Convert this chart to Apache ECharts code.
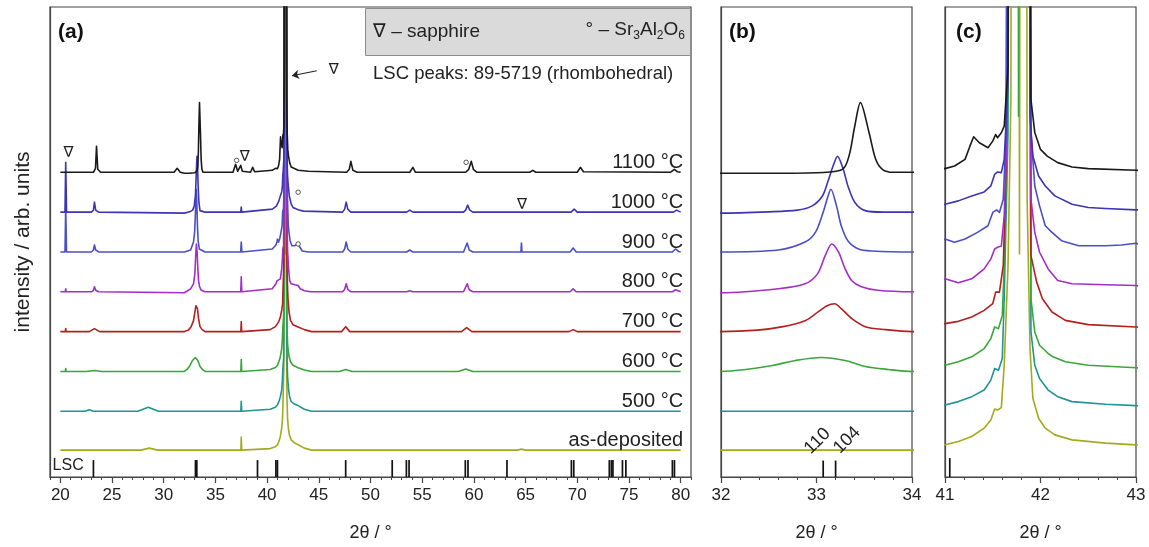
<!DOCTYPE html>
<html><head><meta charset="utf-8">
<script src="https://cdn.jsdelivr.net/npm/echarts@6/dist/echarts.min.js"></script>
<style>html,body{margin:0;padding:0;background:#fff}#c{width:1149px;height:547px}</style>
</head><body><div id="c"></div>
<script>
// ---------- data (2θ in degrees, intensity in arb. units above each curve's baseline) ----------
const curveNames = ['as-deposited','500 °C','600 °C','700 °C','800 °C','900 °C','1000 °C','1100 °C'];
const curveOffsets = [27, 66, 106, 146, 186, 226, 266, 306];
const curveColors = ['#a3aa1e','#1f9494','#3aa63a','#b0211f','#a22ec6','#4b4fc6','#3d34b2','#1a1a1a'];

const asDeposited = [[20,0],[20.48,0],[20.52,2],[20.56,0],[27.8,0],[28.6,2],[29.4,0],[32,0],[34,0],
 [37.46,0],[37.5,13],[37.54,0],[40.3,1.5],[40.8,3.5],
 [41.0,5.3],[41.14,8.7],[41.28,13.7],[41.41,22],[41.48,30.3],[41.52,41.3],[41.55,40.3],[41.59,42.7],[41.62,85.3],[41.66,185.3],[41.69,352],[41.70,1000],[41.77,1000],[41.78,197],[41.79,1000],[41.85,1000],[41.86,252],[41.89,102],[41.92,52],[41.98,32],[42.05,22],[42.15,15.3],[42.33,10.3],[42.68,7],[43.0,5.3],[43.6,2],[44.3,0],
 [64.2,0],[64.6,1],[65.0,0],[80,0]];
const t500 = [[20,0],[20.48,0],[20.52,2],[20.56,0],[22.4,0],[22.8,1.5],[23.2,0],[27.5,0],[28.5,4],[29.5,0],[32,0],[34,0],
 [37.46,0],[37.5,10],[37.54,0],[40.3,2],[40.8,4],
 [41.0,6.3],[41.14,9.7],[41.28,14.7],[41.41,21.3],[41.48,31.3],[41.52,43],[41.56,41.3],[41.60,53],[41.62,113],[41.66,279.7],[41.68,1000],[41.87,1000],[41.90,79.7],[41.94,46.3],[41.99,33],[42.08,21.3],[42.18,14.7],[42.33,9.7],[42.68,7],[43.0,5.7],[43.6,2],[44.3,0],[80,0]];
const t600 = [[20,0],[20.48,0],[20.52,3],[20.56,0],[22.5,0],[23.3,1],[24.0,0],
 [32.0,0],[32.26,2],[32.54,6],[32.78,11],[33.05,14],[33.30,11],[33.51,5],[33.75,2],[34.0,0],
 [37.46,0],[37.5,12],[37.54,0],[40.3,2],[40.8,4],
 [41.0,6.3],[41.14,9.7],[41.28,14.7],[41.41,23],[41.48,33],[41.52,44.7],[41.56,43],[41.60,56.3],[41.62,106.3],[41.65,239.7],[41.67,1000],[41.76,1000],[41.77,256.3],[41.78,1000],[41.87,1000],[41.90,73],[41.94,39.7],[41.99,26.3],[42.08,18],[42.13,14.7],[42.26,9.7],[42.50,6.3],[43.0,3.7],[43.6,1.5],[44.3,0],
 [47.0,0],[47.6,2],[48.2,0],[58.5,0],[59.2,2.5],[59.9,0],[80,0]];
const t700 = [[20,0],[20.48,0],[20.52,3],[20.56,0],[22.8,0],[23.3,3],[23.8,0],
 [32.0,0],[32.38,1.5],[32.65,5],[32.88,11],[33.02,20],[33.11,26],[33.19,28],[33.26,23],[33.37,13],[33.51,5],[33.72,2],[34.0,0],
 [37.46,0],[37.5,10],[37.54,0],[40.3,2],[40.8,5],
 [41.0,8],[41.14,10.3],[41.28,14.7],[41.41,21.3],[41.50,28],[41.53,39.7],[41.57,39.7],[41.61,66.3],[41.64,166.3],[41.67,1000],[41.87,1000],[41.90,76.3],[41.96,49.7],[42.02,33],[42.12,19.7],[42.26,11.3],[42.50,7],[43.0,4.7],[43.6,2],[44.3,0],
 [47.2,0],[47.6,5],[48.0,0],[58.8,0],[59.3,4],[59.8,0],[64.55,0],[64.6,2],[64.65,0],[69.2,0],[69.6,2],[70.0,0],[80,0]];
const t800 = [[20,0],[20.48,0],[20.52,3],[20.56,0],[23.0,0],[23.2,1.5],[23.3,5],[23.42,1.5],[23.7,0],
 [32.0,-1],[32.6,3],[32.88,8],[33.01,18],[33.09,36],[33.16,48],[33.23,40],[33.30,23],[33.37,11],[33.47,5],[33.64,1.5],[34.0,0],
 [37.45,0],[37.5,15],[37.55,0],[40.5,3],[40.85,8],[40.95,11],
 [41.0,13],[41.14,9],[41.28,13],[41.41,23],[41.48,33],[41.52,43],[41.55,44.7],[41.59,46],[41.62,76.3],[41.65,159.7],[41.67,1000],[41.88,1000],[41.90,93],[41.94,59.7],[41.99,39.7],[42.08,23],[42.18,11.3],[42.33,8],[42.68,7],[43.0,6.3],[43.2,3],[43.6,1],[44.2,0],
 [47.3,0],[47.5,2.5],[47.65,8],[47.8,2.5],[48.1,0],[53.5,0],[53.8,1],[54.1,0],[59.0,0],[59.15,2],[59.35,8],[59.55,2],[59.9,0],[69.3,0],[69.6,3],[69.9,0],[79.2,0],[79.5,2],[80,0]];
const t900 = [[20,0],[20.45,0],[20.52,45],[20.6,0],[23.0,0],[23.2,2],[23.3,7],[23.42,2],[23.7,0],
 [32.0,0],[32.6,2],[32.88,10],[32.99,20],[33.07,40],[33.12,56],[33.15,63],[33.21,46],[33.26,26],[33.33,11],[33.44,3],[33.58,1],[34.0,0],
 [37.44,0],[37.5,10],[37.56,0],[40.5,3],[40.85,7],[40.95,10],
 [41.0,13],[41.10,9.7],[41.21,13],[41.34,19.7],[41.45,26.3],[41.50,39.7],[41.54,42.3],[41.57,39.7],[41.61,53],[41.64,119.7],[41.67,1000],[41.87,1000],[41.90,119.7],[41.94,66.3],[41.99,46.3],[42.05,26.3],[42.12,19.7],[42.22,11.3],[42.40,6.3],[42.68,6.3],[42.85,7],[43.0,8.7],[43.1,6],[43.4,1],[44,0],
 [47.3,0],[47.5,3],[47.65,10],[47.8,3],[48.1,0],[53.5,0],[53.8,2],[54.1,0],[59.0,0],[59.15,2],[59.35,9],[59.55,2],[59.9,0],[64.55,0],[64.6,9],[64.65,0],[69.3,0],[69.6,4],[69.9,0],[79.2,0],[79.5,3],[79.8,0.5],[80,0]];
const t1000 = [[20,0],[20.45,0],[20.52,50],[20.6,0],[23.0,0],[23.2,2],[23.3,10],[23.42,2],[23.7,0],
 [32.0,-1],[32.5,0.3],[32.8,2],[32.95,6],[33.06,16],[33.12,31],[33.18,48],[33.22,56],[33.28,43],[33.33,26],[33.40,10],[33.51,1.5],[33.7,0],[34.0,0],
 [37.45,0],[37.5,5],[37.55,0],[40.5,3],[40.9,6],
 [41.0,8],[41.14,11.3],[41.28,16.3],[41.41,20.3],[41.48,26.3],[41.52,38],[41.55,40.3],[41.59,39.7],[41.62,53],[41.66,129.7],[41.68,1000],[41.87,1000],[41.89,96.3],[41.92,56.3],[41.98,36.3],[42.05,26.3],[42.15,16.3],[42.33,8],[42.50,4.7],[42.68,3.7],[43.0,2.3],[43.5,1],
 [47.3,0],[47.5,3],[47.65,10],[47.8,3],[48.1,0],[53.5,0],[53.8,2],[54.1,0],[59.0,0],[59.2,2],[59.4,7],[59.6,2],[59.9,0],[69.4,0],[69.7,3],[70.0,0],[79.3,0],[79.6,2],[80,0]];
const t1100 = [[20,0],[23.2,0],[23.4,4],[23.5,26],[23.62,3],[23.9,0],[31.0,0],[31.3,4],[31.6,0],
 [32.0,-1],[32.5,-1],[33.0,-0.5],[33.23,1.5],[33.30,6],[33.35,20],[33.40,46],[33.46,70],[33.55,40],[33.62,13],[33.69,3],[33.8,0],[34.0,0],
 [36.7,0],[36.95,8],[37.15,1],[37.3,1],[37.45,7],[37.6,1],[38.4,0],[38.6,5],[38.8,0.5],[40.5,2],[40.8,4],
 [41.0,3.7],[41.10,6.3],[41.21,13],[41.26,26],[41.30,35.7],[41.36,29.7],[41.45,24.7],[41.50,31.3],[41.53,38],[41.55,34.7],[41.59,39.7],[41.62,46.3],[41.66,106],[41.68,1000],[41.87,1000],[41.90,73],[41.94,40],[42.0,23],[42.07,16.3],[42.18,9.7],[42.33,5.3],[42.50,3.7],[43.0,2],[44,1],
 [47.7,0],[47.95,3],[48.1,11],[48.3,2],[48.7,0],[53.8,0],[54.1,5],[54.35,0],[59.2,0],[59.5,3],[59.75,11],[59.95,3],[60.3,0],[65.4,0],[65.7,2],[66.0,0],[70.0,0],[70.3,5],[70.6,0.5],[79.0,0],[79.4,3],[79.7,0.5],[80,0]];
const curves = [asDeposited, t500, t600, t700, t800, t900, t1000, t1100];

// LSC reference peak positions (2θ)
const lscPeaks = [23.2, 33.07, 33.2, 39.07, 40.85, 41.0, 47.6, 52.1, 53.47, 53.73, 59.17, 59.43, 63.2, 69.43, 69.66, 73.1, 73.3, 73.45, 74.37, 74.7, 79.2, 79.4];
const lscPeaksB = [33.07, 33.2];
const lscPeaksC = [41.05];
const lscLabelsB = ['110', '104'];

// tick labels
const ticksA = [20,25,30,35,40,45,50,55,60,65,70,75,80];
const ticksB = [32,33,34];
const ticksC = [41,42,43];

// annotations (data coordinates of panel a)
const sapphireMarks = [[20.8,325],[37.85,321],[64.66,273],[46.45,409]];
const sraoMarks = [[37.05,318],[43.0,286],[43.0,234],[59.25,316]];

// ---------- chart ----------
const FONT = 'Liberation Sans, Arial, Helvetica, sans-serif';
const TXT = '#222';
const AX = '#444';
const chart = echarts.init(document.getElementById('c'));

const grids = [
  {left:50, top:7, width:641, height:472},
  {left:721, top:7, width:191, height:472},
  {left:945, top:7, width:191, height:472}
].map(g => Object.assign(g, {show:true, borderColor:AX, borderWidth:1.2, backgroundColor:'transparent'}));

const axLine = {show:true, lineStyle:{color:AX, width:1.2}};
const axName = {name:'2θ / °', nameLocation:'middle', nameGap:47, nameTextStyle:{fontSize:18, color:TXT, fontFamily:FONT}};
const axLabel = {fontSize:17, color:TXT, fontFamily:FONT, margin:10};

const xAxis = [
  Object.assign({gridIndex:0, type:'value', position:'bottom', min:19, max:81, minInterval:5, maxInterval:5, splitNumber:12,
    axisLine:axLine, axisTick:{show:true, length:6, lineStyle:{color:AX, width:1.2}},
    axisLabel:Object.assign({showMinLabel:false, showMaxLabel:false, formatter:v => ticksA.includes(v) ? String(v) : ''}, axLabel),
    splitLine:{show:false}}, axName),
  {gridIndex:0, type:'value', position:'bottom', offset:0, min:19, max:81, interval:1, axisLine:{show:false},
    axisTick:{show:true, length:3, lineStyle:{color:AX, width:1}}, axisLabel:{show:false}, splitLine:{show:false}},
  Object.assign({gridIndex:1, type:'value', position:'bottom', min:32, max:34, interval:1,
    axisLine:axLine, axisTick:{show:true, length:6, lineStyle:{color:AX, width:1.2}},
    minorTick:{show:true, splitNumber:5, length:3, lineStyle:{color:AX, width:1}},
    axisLabel:Object.assign({showMinLabel:true, showMaxLabel:true, formatter:v => ticksB.includes(v) ? String(v) : ''}, axLabel),
    splitLine:{show:false}, minorSplitLine:{show:false}}, axName),
  Object.assign({gridIndex:2, type:'value', position:'bottom', min:41, max:43, interval:1,
    axisLine:axLine, axisTick:{show:true, length:6, lineStyle:{color:AX, width:1.2}},
    minorTick:{show:true, splitNumber:5, length:3, lineStyle:{color:AX, width:1}},
    axisLabel:Object.assign({showMinLabel:true, showMaxLabel:true, formatter:v => ticksC.includes(v) ? String(v) : ''}, axLabel),
    splitLine:{show:false}, minorSplitLine:{show:false}}, axName)
];
const yBase = {type:'value', min:0, max:472, axisLine:{show:true, lineStyle:{color:AX, width:1.2}}, axisTick:{show:false}, axisLabel:{show:false}, splitLine:{show:false}};
const yAxis = [
  Object.assign({gridIndex:0, name:'intensity / arb. units', nameLocation:'middle', nameGap:16, nameRotate:90,
    nameTextStyle:{fontSize:21, color:TXT, fontFamily:FONT}}, yBase),
  Object.assign({gridIndex:1}, yBase),
  Object.assign({gridIndex:2}, yBase)
];

const series = [];
const panelX = [0, 2, 3];
for (let p = 0; p < 3; p++) {
  curves.forEach((c, i) => {
    series.push({type:'line', xAxisIndex:panelX[p], yAxisIndex:p, clip:true, symbol:'none', showSymbol:false,
      silent:true, animation:false, z:2 + i,
      smooth: p === 1 ? 0.3 : false,
      lineStyle:{color:curveColors[i], width:1.6, join:'round'},
      data:c.map(pt => [pt[0], pt[1] + curveOffsets[i]])});
  });
}

function lscSeries(xi, yi, peaks, h) {
  return {type:'custom', xAxisIndex:xi, yAxisIndex:yi, silent:true, animation:false, z:20,
    data:peaks.map(x => [x, h]),
    renderItem:(params, api) => {
      const a = api.coord([api.value(0), 0]);
      const b = api.coord([api.value(0), api.value(1)]);
      return {type:'line', shape:{x1:a[0], y1:a[1], x2:b[0], y2:b[1]}, style:{stroke:'#111', lineWidth:1.7}};
    }};
}
series.push(lscSeries(0, 0, lscPeaks, 17));
series.push(lscSeries(2, 1, lscPeaksB, 16.5));
series.push(lscSeries(3, 2, lscPeaksC, 19));

const solid = {opacity:1};
// curve labels
series.push({type:'scatter', xAxisIndex:0, yAxisIndex:0, symbolSize:0, silent:true, animation:false, z:30, itemStyle:solid,
  data:curveNames.map((n, i) => ({name:n, value:[80.24, curveOffsets[i] + 10]})),
  label:{show:true, position:'inside', align:'right', verticalAlign:'middle', formatter:'{b}', fontSize:20, color:TXT, fontFamily:FONT}});
// LSC label
series.push({type:'scatter', xAxisIndex:0, yAxisIndex:0, symbolSize:0, silent:true, animation:false, z:30, itemStyle:solid,
  data:[{name:'LSC', value:[19.25, 11]}],
  label:{show:true, position:'inside', align:'left', verticalAlign:'middle', formatter:'{b}', fontSize:16, color:TXT, fontFamily:FONT}});
// sapphire marks
series.push({type:'scatter', xAxisIndex:0, yAxisIndex:0, symbolSize:0, silent:true, animation:false, z:30, itemStyle:solid,
  data:sapphireMarks.map(v => ({name:'∇', value:v})),
  label:{show:true, position:'inside', align:'center', verticalAlign:'middle', formatter:'{b}', fontSize:15, color:'#222', fontFamily:'DejaVu Sans, sans-serif'}});
// Sr3Al2O6 marks
series.push({type:'scatter', xAxisIndex:0, yAxisIndex:0, symbol:'circle', symbolSize:4.5, silent:true, animation:false, z:30,
  data:sraoMarks, itemStyle:{color:'#fff', borderColor:'#444', borderWidth:0.9, opacity:1}});
// arrow
series.push({type:'lines', coordinateSystem:'cartesian2d', xAxisIndex:0, yAxisIndex:0, silent:true, animation:false, z:30,
  symbol:['none','arrow'], symbolSize:7,
  lineStyle:{color:'#222', width:1.1, opacity:1},
  data:[{coords:[[44.8,408],[42.4,403]]}]});
// hkl labels in panel b
series.push({type:'scatter', xAxisIndex:2, yAxisIndex:1, symbolSize:0, silent:true, animation:false, z:30, itemStyle:solid,
  data:[{name:lscLabelsB[0], value:[33.01, 36]}, {name:lscLabelsB[1], value:[33.32, 37]}],
  label:{show:true, position:'inside', align:'center', verticalAlign:'middle', rotate:45, formatter:'{b}', fontSize:18, color:TXT, fontFamily:FONT}});

const graphic = [
  {type:'rect', left:365, top:8, z:1, shape:{width:325, height:47}, style:{fill:'#dadada', stroke:'#8c8c8c', lineWidth:1}},
  {type:'text', left:373, top:22, z:50, style:{text:'∇ – sapphire', fontSize:19, fill:TXT, fontFamily:FONT}},
  {type:'text', right:1149-685, top:20, z:50, style:{text:'{n|° – Sr}{s|3}{n|Al}{s|2}{n|O}{s|6}', fill:TXT, fontFamily:FONT,
    rich:{n:{fontSize:19, lineHeight:24, fontFamily:FONT, fill:TXT}, s:{fontSize:12, lineHeight:10, verticalAlign:'bottom', fontFamily:FONT, fill:TXT}}}},
  {type:'text', left:373, top:64, z:50, style:{text:'LSC peaks: 89-5719 (rhombohedral)', fontSize:18.5, fill:TXT, fontFamily:FONT}},
  {type:'text', left:58, top:22, z:50, style:{text:'(a)', fontSize:21, fontWeight:'bold', fill:'#111', fontFamily:FONT}},
  {type:'text', left:729, top:22, z:50, style:{text:'(b)', fontSize:21, fontWeight:'bold', fill:'#111', fontFamily:FONT}},
  {type:'text', left:956, top:22, z:50, style:{text:'(c)', fontSize:21, fontWeight:'bold', fill:'#111', fontFamily:FONT}}
];

chart.setOption({animation:false, backgroundColor:'#fff', grid:grids, xAxis, yAxis, series, graphic});
</script></body></html>
